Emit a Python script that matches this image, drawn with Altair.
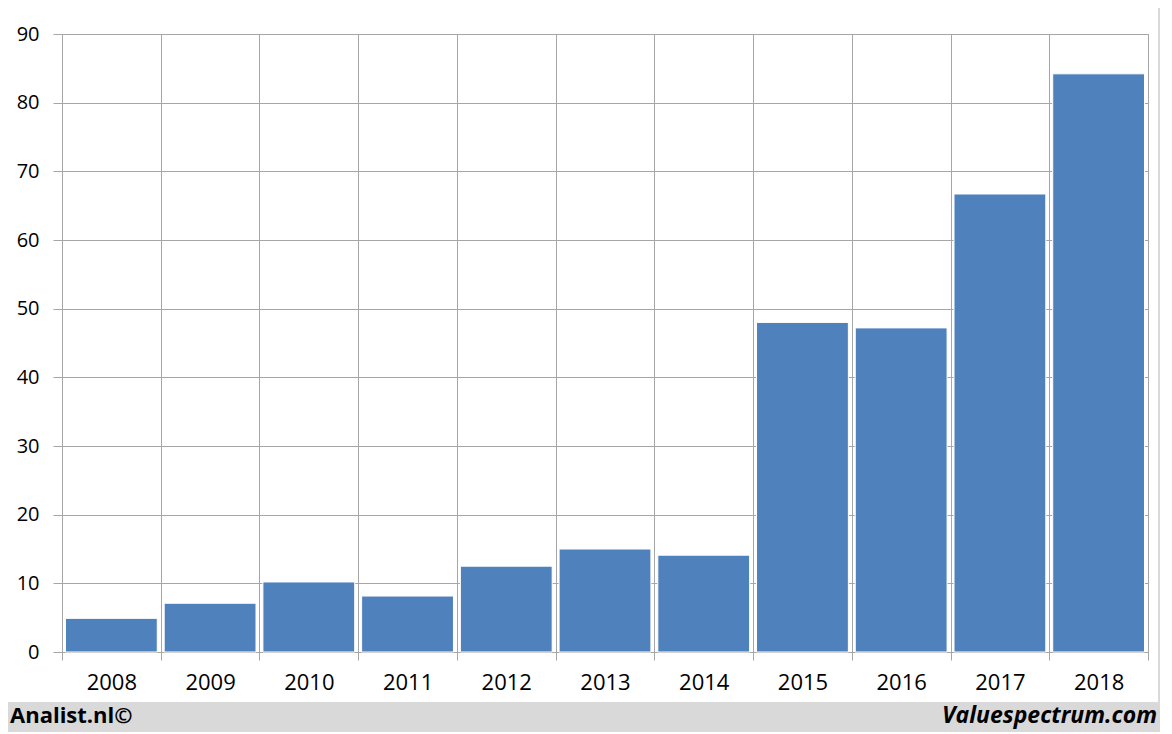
import altair as alt
import pandas as pd

years = ["2008", "2009", "2010", "2011", "2012", "2013", "2014", "2015", "2016", "2017", "2018"]
values = [4.9, 7.1, 10.2, 8.15, 12.5, 15.0, 14.1, 48.0, 47.2, 66.7, 84.2]
y_ticks = [0, 10, 20, 30, 40, 50, 60, 70, 80, 90]
left_text = "Analist.nl©"
right_text = "Valuespectrum.com"

df = pd.DataFrame({"year": years, "value": values})

GRID = "#a6a6a6"
FONT = "Open Sans"
W, H = 1086, 618

one = alt.Data(values=[{}])

footer = alt.Chart(one).mark_rect(color="#d9d9d9").encode(
    x=alt.value(-54), x2=alt.value(1098), y=alt.value(668), y2=alt.value(704)
)
right_strip = alt.Chart(one).mark_rect(color="#d9d9d9").encode(
    x=alt.value(1096), x2=alt.value(1098), y=alt.value(-26), y2=alt.value(704)
)

bars = alt.Chart(df).mark_bar(
    color="#4f81bd", stroke="white", strokeWidth=1, width=alt.RelativeBandSize(0.93)
).encode(
    x=alt.X("year:N", sort=years, title=None,
            scale=alt.Scale(paddingInner=0, paddingOuter=0),
            axis=alt.Axis(tickBand="extent", grid=True, gridColor=GRID, tickColor=GRID,
                          domainColor=GRID, tickSize=8, labelAngle=0, labelFontSize=22,
                          labelFont=FONT, labelColor="black", labelPadding=12)),
    y=alt.Y("value:Q", title=None,
            scale=alt.Scale(domain=[0, 90], nice=False),
            axis=alt.Axis(values=y_ticks, grid=True, gridColor=GRID, tickColor=GRID,
                          domainColor=GRID, tickSize=9, labelFontSize=20, labelFont=FONT,
                          labelColor="black", labelPadding=14)),
)

t_left = alt.Chart(one).mark_text(
    text=left_text, font=FONT, fontSize=22, fontWeight="bold", align="left",
    baseline="alphabetic", color="black"
).encode(x=alt.value(-52), y=alt.value(689))

t_right = alt.Chart(one).mark_text(
    text=right_text, font=FONT, fontSize=23, fontWeight="bold", fontStyle="italic",
    align="right", baseline="alphabetic", color="black"
).encode(x=alt.value(1095), y=alt.value(689))

chart = alt.layer(footer, right_strip, bars, t_left, t_right).properties(
    width=W, height=H,
    autosize=alt.AutoSizeParams(type="none"),
    padding={"left": 54, "top": 26, "right": 12, "bottom": 80},
    background="white",
).configure_view(stroke=GRID, strokeWidth=1)

chart.save("out.html", embed_options={"renderer": "svg", "actions": False})
